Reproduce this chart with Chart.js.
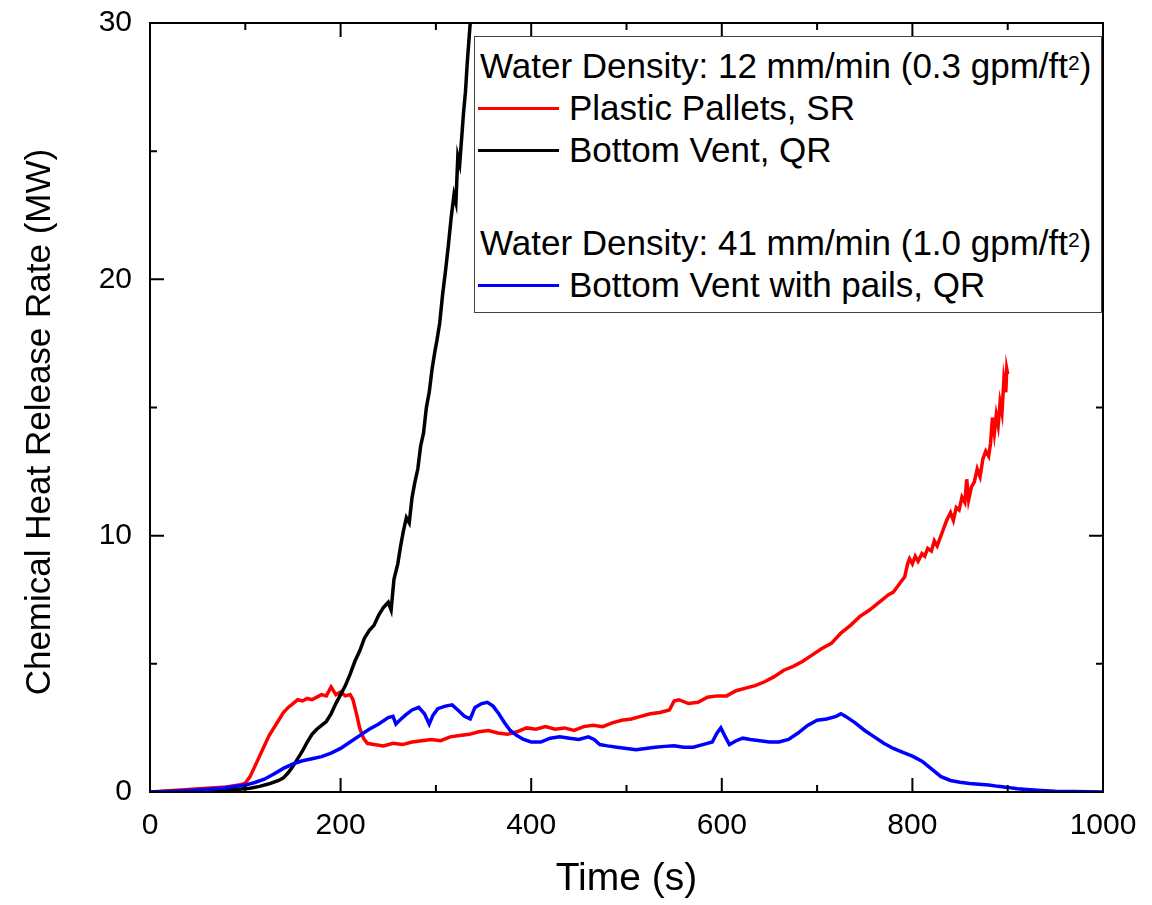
<!DOCTYPE html>
<html>
<head>
<meta charset="utf-8">
<title>Chemical Heat Release Rate</title>
<script src="https://cdn.jsdelivr.net/npm/chart.js@4.4.1/dist/chart.umd.min.js"></script>
<style>
  html, body { margin: 0; padding: 0; background: #fff; }
  #wrap { position: relative; width: 1152px; height: 905px; }
  #legendBox {
    position: absolute; left: 474px; top: 36px; width: 628px; height: 277px;
    box-sizing: border-box; border: 1.5px solid #444; background: #fff;
    font-family: 'Liberation Sans', Arial, sans-serif; font-size: 35px; color: #000;
    padding-top: 8px;
  }
  .lg-row { height: 42px; line-height: 42px; white-space: nowrap; display: flex; align-items: center; }
  .lg-head { padding-left: 5px; }
  .lg-line { width: 81px; height: 3px; margin: 0 10px 0 3px; flex: none; }
  .lg-gap { height: 51px; }
  sup { font-size: 0.6em; line-height: 0; position: relative; top: -0.15em; vertical-align: super; }
</style>
</head>
<body>
<div id="wrap">
  <canvas id="hrrChart" width="1152" height="905"></canvas>
  <div id="legendBox">
    <div class="lg-row lg-head">Water Density: 12 mm/min (0.3 gpm/ft<sup>2</sup>)</div>
    <div class="lg-row"><span class="lg-line" style="background:#ff0000"></span>Plastic Pallets, SR</div>
    <div class="lg-row"><span class="lg-line" style="background:#000000"></span>Bottom Vent, QR</div>
    <div class="lg-gap"></div>
    <div class="lg-row lg-head">Water Density: 41 mm/min (1.0 gpm/ft<sup>2</sup>)</div>
    <div class="lg-row"><span class="lg-line" style="background:#0000ff"></span>Bottom Vent with pails, QR</div>
  </div>
</div>
<script>
/* ===== DATA ===== */
const X_TICKS = [0, 200, 400, 600, 800, 1000];
const X_MINOR = [100, 300, 500, 700, 900];
const Y_TICKS = [0, 10, 20, 30];
const Y_MINOR = [5, 15, 25];

// Plastic Pallets, SR (12 mm/min)
const palletsTime = [0,20,40,60,80,95,100,105,110,115,120,125,130,135,140,145,150,155,160,165,170,175,180,185,190,195,200,205,210,213,217,220,224,228,235,245,255,265,275,285,295,305,315,325,335,345,355,365,375,385,395,405,415,425,435,445,455,465,475,485,495,505,515,525,535,545,550,555,565,575,585,595,605,615,625,635,645,655,665,675,685,695,705,715,725,735,745,755,765,775,
  780,784,788,792,795,797,800,803,806,810,813,816,820,823,826,830,833,836,840,843,846,849,852,855,857,859,862,865,868,871,874,877,880,882,884,886,888,890,892,894,896,898,899,900];
const palletsHRR  = [0,0.05,0.1,0.15,0.2,0.28,0.35,0.6,1.0,1.4,1.8,2.2,2.5,2.8,3.1,3.3,3.45,3.6,3.55,3.65,3.6,3.7,3.8,3.75,4.1,3.8,3.9,3.75,3.8,3.6,3.0,2.5,2.1,1.9,1.85,1.8,1.9,1.85,1.95,2.0,2.05,2.0,2.15,2.2,2.25,2.35,2.4,2.3,2.25,2.35,2.5,2.45,2.55,2.45,2.5,2.4,2.55,2.6,2.55,2.7,2.8,2.85,2.95,3.05,3.1,3.2,3.55,3.6,3.45,3.5,3.7,3.75,3.75,3.95,4.05,4.15,4.3,4.5,4.75,4.9,5.1,5.35,5.6,5.8,6.2,6.5,6.85,7.1,7.4,7.7,
  7.8,8.0,8.2,8.4,8.9,9.1,8.9,9.2,9.0,9.3,9.2,9.5,9.4,9.8,9.6,10.0,10.3,10.6,10.9,10.6,11.1,11.0,11.5,11.3,12.2,11.4,11.9,12.1,12.6,12.3,13.0,13.3,13.1,13.6,14.6,14.0,14.7,14.3,15.2,14.8,16.1,15.6,16.5,16.3];

// Bottom Vent, QR (12 mm/min)
const ventTime = [0,30,60,90,105,115,125,135,140,145,150,155,160,165,170,175,180,185,190,195,200,205,210,215,220,225,230,235,240,245,250,253,256,260,263,266,269,272,275,278,281,284,287,290,293,296,299,301,304,307,310,313,316,319,321,323,325,327,329,331,333,335,337];
const ventHRR  = [0,0.02,0.05,0.1,0.15,0.22,0.32,0.45,0.55,0.75,1.0,1.3,1.6,1.95,2.25,2.45,2.6,2.75,3.05,3.45,3.8,4.15,4.6,5.1,5.5,6.0,6.3,6.5,6.9,7.2,7.4,7.1,8.3,8.9,9.6,10.2,10.7,10.5,11.5,12.1,12.6,13.5,14.0,15.0,15.6,16.5,17.2,17.6,18.3,19.4,20.3,21.3,22.4,23.3,23.0,24.8,24.5,25.5,26.5,27.3,28.5,29.5,30.5];

// Bottom Vent with pails, QR (41 mm/min)
const pailsTime = [0,25,50,75,100,110,120,130,140,150,160,170,180,190,200,210,220,230,240,250,255,258,262,268,275,282,288,293,297,302,310,317,323,330,336,341,348,354,360,366,372,378,385,392,400,410,420,430,440,450,460,466,472,480,490,500,510,520,530,540,550,560,570,580,590,595,599,603,608,615,622,630,640,650,660,670,680,690,700,710,720,725,730,740,750,760,770,780,790,800,810,820,830,840,850,860,870,880,890,900,910,920,935,950,970,1000];
const pailsHRR  = [0,0.03,0.08,0.15,0.27,0.37,0.5,0.7,0.92,1.1,1.22,1.3,1.38,1.52,1.7,1.95,2.2,2.45,2.65,2.9,2.95,2.65,2.8,3.0,3.2,3.3,3.05,2.65,3.0,3.25,3.35,3.4,3.2,2.95,2.85,3.3,3.45,3.5,3.35,3.05,2.7,2.4,2.2,2.05,1.95,1.95,2.1,2.15,2.1,2.05,2.15,2.05,1.85,1.8,1.75,1.7,1.65,1.7,1.75,1.78,1.8,1.75,1.75,1.85,1.95,2.3,2.5,2.2,1.85,2.0,2.1,2.05,2.0,1.95,1.95,2.05,2.3,2.6,2.8,2.85,2.95,3.05,2.95,2.7,2.4,2.15,1.9,1.7,1.55,1.4,1.2,0.9,0.6,0.45,0.38,0.33,0.3,0.27,0.22,0.18,0.13,0.1,0.06,0.03,0.02,0];

const toPoints = (xs, ys) => xs.map((t, i) => ({ x: t, y: ys[i] }));

const FONT = "'Liberation Sans', Arial, sans-serif";

/* ===== frame + inward ticks on all four sides ===== */
const frameTicks = {
  id: 'frameTicks',
  afterDatasetsDraw(chart) {
    const { ctx, chartArea: a, scales: { x, y } } = chart;
    ctx.save();
    ctx.strokeStyle = '#000';
    ctx.lineWidth = 2;
    ctx.strokeRect(a.left, a.top, a.right - a.left, a.bottom - a.top);
    const tickX = (list, len) => {
      list.forEach(v => {
        const px = x.getPixelForValue(v);
        ctx.beginPath();
        ctx.moveTo(px, a.bottom); ctx.lineTo(px, a.bottom - len);
        ctx.moveTo(px, a.top); ctx.lineTo(px, a.top + len);
        ctx.stroke();
      });
    };
    const tickY = (list, len) => {
      list.forEach(v => {
        const py = y.getPixelForValue(v);
        ctx.beginPath();
        ctx.moveTo(a.left, py); ctx.lineTo(a.left + len, py);
        ctx.moveTo(a.right, py); ctx.lineTo(a.right - len, py);
        ctx.stroke();
      });
    };
    tickX(X_TICKS, 14); tickX(X_MINOR, 7);
    tickY(Y_TICKS, 14); tickY(Y_MINOR, 7);
    ctx.restore();
  }
};

new Chart(document.getElementById('hrrChart'), {
  type: 'line',
  data: {
    datasets: [
      { label: 'Plastic Pallets, SR', data: toPoints(palletsTime, palletsHRR), borderColor: '#ff0000', order: 3 },
      { label: 'Bottom Vent, QR', data: toPoints(ventTime, ventHRR), borderColor: '#000000', order: 2 },
      { label: 'Bottom Vent with pails, QR', data: toPoints(pailsTime, pailsHRR), borderColor: '#0000ff', order: 1 },
    ]
  },
  options: {
    responsive: false,
    animation: false,
    devicePixelRatio: 1,
    layout: { padding: { top: 23, right: 49, left: 0, bottom: 0 } },
    elements: {
      line: { borderWidth: 3.5, tension: 0, fill: false },
      point: { radius: 0 }
    },
    plugins: { legend: { display: false }, tooltip: { enabled: false } },
    scales: {
      x: {
        type: 'linear', min: 0, max: 1000,
        afterFit: s => { s.height = 113; s.paddingLeft = 0; s.paddingRight = 0; },
        afterBuildTicks: s => { s.ticks = X_TICKS.map(v => ({ value: v })); },
        grid: { display: false, drawTicks: false },
        border: { display: false },
        ticks: { color: '#000', padding: 16, maxRotation: 0, font: { family: FONT, size: 30 }, callback: v => String(v) },
        title: { display: true, text: 'Time (s)', color: '#000', padding: { top: 0, bottom: 2 }, font: { family: FONT, size: 39 } }
      },
      y: {
        type: 'linear', min: 0, max: 30,
        afterFit: s => { s.width = 150; s.paddingTop = 0; s.paddingBottom = 0; },
        afterBuildTicks: s => { s.ticks = Y_TICKS.map(v => ({ value: v })); },
        grid: { display: false, drawTicks: false },
        border: { display: false },
        ticks: { color: '#000', padding: 18, font: { family: FONT, size: 30 }, callback: v => String(v) },
        title: { display: true, text: 'Chemical Heat Release Rate (MW)   ', color: '#000', padding: { top: 19, bottom: 0 }, font: { family: FONT, size: 35 } }
      }
    }
  },
  plugins: [frameTicks]
});
</script>
</body>
</html>
